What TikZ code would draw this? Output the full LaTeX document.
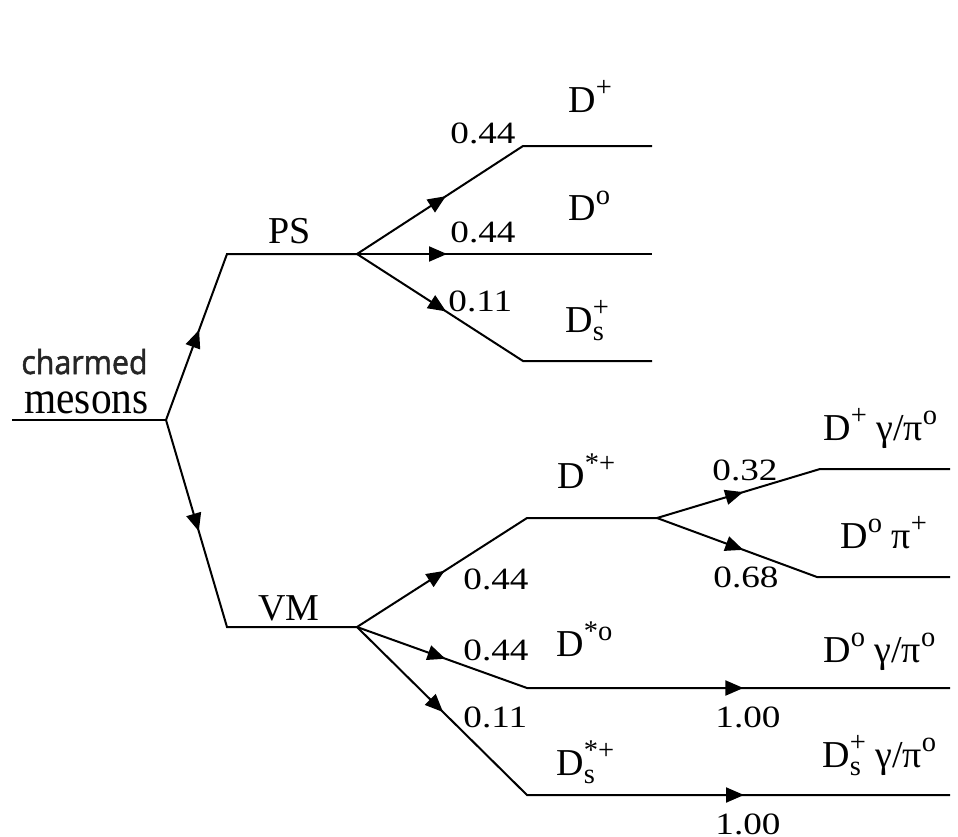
\documentclass[tikz,border=0pt]{standalone}
\usepackage{fontspec}
\setmainfont{Liberation Serif}
\newfontfamily\labelsans[FakeBold=1.6]{Open Sans}
\usepackage{graphicx}
\usetikzlibrary{arrows.meta,decorations.markings}

% raised / lowered indices for particle names
\newcommand\upidx[1]{\raisebox{0.42em}{\scalebox{0.75}{#1}}}
\newcommand\lowidx[1]{\raisebox{-0.22em}{\scalebox{0.75}{#1}}}
\newcommand\bothidx[2]{\rlap{\lowidx{#1}}\upidx{#2}}

\tikzset{
  wire/.style={line width=1pt, line join=miter, draw=black},
  tipat/.style={postaction={decorate, decoration={markings,
      mark=at position #1 with {\arrow{Triangle[length=9pt,width=7.5pt]}}}}},
  state/.style={anchor=base west, inner sep=0pt, font=\fontsize{19}{22}\selectfont},
  prob/.style={anchor=base west, inner sep=0pt, xscale=1.2, font=\fontsize{15.5}{18}\selectfont},
}

\begin{document}
\begin{tikzpicture}[x=0.5pt, y=-0.5pt]
  \fill[white] (0,0) rectangle (958,836);
  \useasboundingbox (0,0) rectangle (958,836);

  % junctions and line ends
  \coordinate (in)   at (12,420);
  \coordinate (root) at (166,420);
  \coordinate (psC)  at (227,254);
  \coordinate (ps)   at (357,254);
  \coordinate (vmC)  at (227,627);
  \coordinate (vm)   at (357,627);
  \coordinate (dpC)  at (523,146);  \coordinate (dpE)  at (652,146);
  \coordinate (dzE)  at (652,254);
  \coordinate (dsC)  at (523,361);  \coordinate (dsE)  at (652,361);
  \coordinate (dstC) at (527,518);  \coordinate (dst)  at (657,518);
  \coordinate (g1C)  at (820,469);  \coordinate (g1E)  at (950,469);
  \coordinate (g2C)  at (817,577);  \coordinate (g2E)  at (950,577);
  \coordinate (dszC) at (527,688);  \coordinate (dszE) at (950,688);
  \coordinate (dssC) at (527,795);  \coordinate (dssE) at (950,795);

  % decay lines
  \draw[wire] (in) -- (root);
  \draw[wire, tipat=48pt]   (root) -- (psC) -- (ps);
  \draw[wire, tipat=58pt]   (root) -- (vmC) -- (vm);
  \draw[wire, tipat=53pt]   (ps) -- (dpC) -- (dpE);
  \draw[wire, tipat=45pt]   (ps) -- (dzE);
  \draw[wire, tipat=53pt]   (ps) -- (dsC) -- (dsE);
  \draw[wire, tipat=52pt]   (vm) -- (dstC) -- (dst);
  \draw[wire, tipat=45pt]   (dst) -- (g1C) -- (g1E);
  \draw[wire, tipat=46pt]   (dst) -- (g2C) -- (g2E);
  \draw[wire, tipat=47pt, tipat=198.5pt] (vm) -- (dszC) -- (dszE);
  \draw[wire, tipat=60.5pt, tipat=228pt] (vm) -- (dssC) -- (dssE);

  % left label
  \node[anchor=base west, inner sep=0pt, xscale=0.92, text=black!85,
        font=\labelsans\fontsize{16.5}{19}\selectfont] (lcharm) at (21,374) {charmed};
  \node[anchor=base west, inner sep=0pt, xscale=0.9,
        font=\fontsize{23}{26}\selectfont] (lmes) at (24,413) {mesons};

  % meson classes
  \node[state] (lps) at (268,243) {PS};
  \node[state] (lvm) at (258,620) {VM};

  % pseudoscalar states
  \node[state] (ldp) at (568,112) {D\upidx{+}};
  \node[state] (ldz) at (568,220) {D\upidx{o}};
  \node[state] (lds) at (565,332) {D\bothidx{s}{+}};

  % vector states
  \node[state] (ldst) at (557,488) {D\upidx{*+}};
  \node[state] (ldsz) at (556,656) {D\upidx{*o}};
  \node[state] (ldss) at (556,775) {D\bothidx{s}{*+}};

  % final states
  \node[state] (lf1) at (823,440) {D\upidx{+} γ/π\upidx{o}};
  \node[state] (lf2) at (840,548) {D\upidx{o} π\upidx{+}};
  \node[state] (lf3) at (823,662) {D\upidx{o} γ/π\upidx{o}};
  \node[state] (lf4) at (822,767) {D\bothidx{s}{+} γ/π\upidx{o}};

  % branching fractions
  \node[prob] (p1)  at (450,143) {0.44};
  \node[prob] (p2)  at (450,242) {0.44};
  \node[prob] (p3)  at (448,311) {0.11};
  \node[prob] (p4)  at (712,480) {0.32};
  \node[prob] (p5)  at (713,587) {0.68};
  \node[prob] (p6)  at (463,589) {0.44};
  \node[prob] (p7)  at (463,660) {0.44};
  \node[prob] (p8)  at (463,727) {0.11};
  \node[prob] (p9)  at (715,727) {1.00};
  \node[prob] (p10) at (715,834) {1.00};
\end{tikzpicture}
\end{document}
